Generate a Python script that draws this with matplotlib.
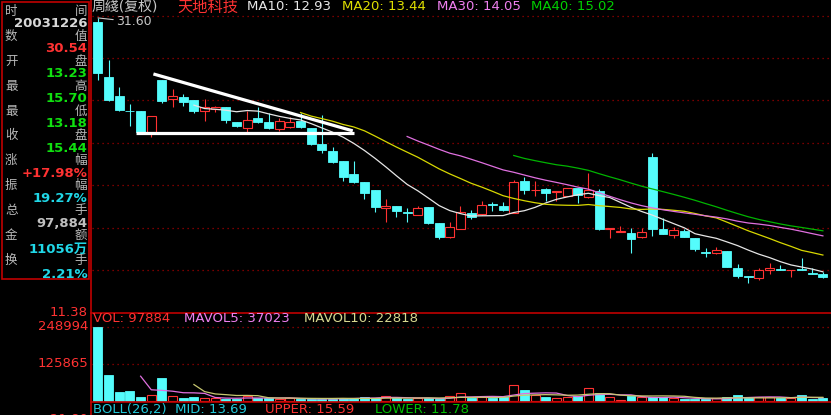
import matplotlib
matplotlib.use("Agg")
import matplotlib.pyplot as plt
import matplotlib.patches as patches
import matplotlib.lines as mlines
import numpy as np
import pandas as pd

plt.rcParams['font.family'] = ['DejaVu Sans', 'Noto Sans CJK SC']

W, H = 831, 415

# weekly candles, adjusted prices
opens = [31.32, 27.56, 26.25, 25.25, 25.22, 23.79, 27.35, 26.05, 26.19, 25.98,
         25.23, 25.36, 25.50, 24.47, 24.06, 24.75, 24.47, 23.99, 24.13, 24.54,
         24.06, 22.97, 22.49, 21.80, 20.91, 20.36, 19.81, 18.58, 18.72, 18.31,
         18.10, 18.65, 17.55, 16.60, 17.14, 18.24, 18.17, 18.86, 18.72, 18.24,
         20.43, 19.81, 19.88, 19.68, 19.40, 19.95, 19.34, 19.75, 17.14, 16.94,
         16.87, 16.60, 22.08, 17.14, 16.73, 17.01, 16.53, 15.57, 15.50, 15.64,
         14.47, 13.92, 13.79, 14.33, 14.40, 14.30, 14.40, 14.13, 14.06]
highs = [31.60, 28.72, 26.87, 25.71, 25.22, 24.88, 27.35, 26.73, 26.39, 25.98,
         26.05, 25.57, 25.50, 24.47, 25.23, 25.50, 25.09, 24.75, 24.82, 25.09,
         24.06, 24.95, 22.76, 21.80, 21.80, 20.36, 19.81, 19.20, 18.72, 18.58,
         18.72, 18.65, 17.55, 17.62, 18.72, 18.45, 19.06, 18.99, 18.99, 20.50,
         20.71, 20.43, 19.95, 19.75, 19.95, 19.95, 20.98, 19.88, 17.21, 17.35,
         17.21, 17.21, 22.35, 17.90, 17.28, 17.14, 16.53, 15.84, 15.91, 15.64,
         14.75, 13.92, 14.47, 14.81, 14.68, 14.33, 15.16, 14.47, 14.20]
lows = [27.35, 25.90, 25.23, 24.20, 23.75, 23.45, 25.77, 25.50, 25.57, 25.09,
        24.54, 25.16, 24.40, 24.13, 23.79, 24.40, 23.99, 23.86, 24.06, 24.06,
        22.90, 22.35, 21.66, 20.43, 20.29, 19.20, 18.31, 17.62, 17.96, 17.62,
        18.10, 17.49, 16.46, 16.53, 17.14, 17.83, 18.10, 18.38, 18.38, 18.24,
        19.54, 19.40, 19.06, 19.06, 19.40, 18.92, 19.27, 17.07, 16.53, 16.94,
        15.50, 16.53, 16.67, 16.80, 16.53, 16.60, 15.64, 15.22, 15.43, 14.54,
        13.79, 13.44, 13.65, 14.06, 14.33, 13.86, 14.33, 14.06, 13.79]
closes = [27.83, 25.98, 25.30, 25.22, 23.79, 24.88, 25.91, 26.25, 25.84, 25.23,
          25.50, 25.50, 24.61, 24.20, 24.61, 24.47, 24.06, 24.54, 24.47, 24.13,
          22.97, 22.56, 21.73, 20.71, 20.36, 19.61, 18.65, 18.72, 18.38, 18.24,
          18.58, 17.55, 16.60, 17.28, 18.31, 17.96, 18.79, 18.79, 18.45, 20.36,
          19.81, 19.84, 19.61, 19.75, 19.95, 19.47, 19.81, 17.14, 17.21, 17.01,
          16.46, 16.94, 17.14, 16.80, 17.07, 16.60, 15.77, 15.50, 15.70, 14.54,
          13.92, 13.86, 14.33, 14.47, 14.33, 14.33, 14.33, 14.06, 13.86]
volumes = [248994, 87500, 31300, 34600, 14500, 20200, 78400, 16800, 9100, 12400,
           11100, 9100, 6700, 6700, 16800, 11100, 9100, 6700, 9100, 6700,
           6700, 6700, 6700, 11100, 11100, 12400, 9100, 16800, 11100, 5700,
           9100, 9100, 5700, 16800, 25900, 11100, 14500, 9100, 12400, 52800,
           37000, 20200, 14500, 9100, 12400, 16800, 42700, 27900, 12400, 3400,
           16800, 14500, 12400, 12400, 9100, 6700, 5700, 5700, 9100, 12400,
           20200, 11100, 12400, 12400, 11100, 9100, 20200, 5700, 9100]

ma_periods = [10, 20, 30, 40]
ma_colors = ['#E6E6E6', '#D8D800', '#E070E0', '#00B400']
vol_ma_periods = [5, 10]
vol_ma_colors = ['#E070E0', '#C8C870']

vol_ticks = [248994, 125865]

# hand-drawn pattern lines (candle index, price)
trend_top = ([5.2, 23.9], [27.76, 23.86])
trend_base = ([3.6, 24.0], [23.72, 23.72])

header = [("周綫(复权)", 92, '#C8C8C8', 10), ("天地科技", 177, '#FF3232', 11),
          ("MA10: 12.93", 247, '#E8E8E8', 9.5), ("MA20: 13.44", 342, '#E0E000', 9.5),
          ("MA30: 14.05", 437, '#F080F0', 9.5), ("MA40: 15.02", 531, '#00D000', 9.5)]
vol_header = [("VOL: 97884", 93, '#FF3232'), ("MAVOL5: 37023", 184, '#F080F0'),
              ("MAVOL10: 22818", 304, '#D8D890')]
boll_header = [("BOLL(26,2)  MID: 13.69", 93, '#20C8D8'), ("UPPER: 15.59", 265, '#FF3232'),
               ("LOWER: 11.78", 375, '#00C000')]

info_labels = [("时", "间"), ("数", "值"), ("开", "盘"), ("最", "高"), ("最", "低"), ("收", "盘"),
               ("涨", "幅"), ("振", "幅"), ("总", "手"), ("金", "额"), ("换", "手")]
info_values = ["20031226", "30.54", "13.23", "15.70", "13.18", "15.44",
               "+17.98%", "19.27%", "97,884", "11056万", "2.21%"]
info_colors = ['#D8D8D8', '#FF3232', '#10E010', '#10E010', '#10E010', '#10E010',
               '#FF3232', '#20D8E8', '#C0C0C0', '#20D8E8', '#20D8E8']

CYAN = '#54FCFC'
RED = '#FF3232'
FRAME = '#C00000'
GRID = '#A00000'

df = pd.DataFrame({'open': opens, 'high': highs, 'low': lows, 'close': closes, 'vol': volumes})
idx = np.arange(len(df))
up = (df['close'] >= df['open']).values

fig = plt.figure(figsize=(W / 100, H / 100), dpi=100, facecolor='black')


def fx(px):
    return px / W


def fy(py):
    return 1 - py / H


L, R = 92, 831
ax = fig.add_axes([fx(L), fy(313), (R - L) / W, (313 - 15) / H])
axv = fig.add_axes([fx(L), fy(402), (R - L) / W, (402 - 313) / H])
for a in (ax, axv):
    a.set_facecolor('black')
    a.set_xticks([])
    a.set_yticks([])
    for s in a.spines.values():
        s.set_visible(False)
    a.set_xlim(-0.56, 68.76)
ax.set_ylim(11.38, 31.80)
axv.set_ylim(-3400, 296000)

# grid
for k in range(1, 8):
    ax.plot([0, 1], [k / 7 - (0.003 if k == 7 else 0)] * 2, transform=ax.transAxes,
            color=GRID, lw=0.9, ls=(0, (1, 3)), zorder=1)
for v in vol_ticks:
    axv.axhline(v, color=GRID, lw=0.9, ls=(0, (1, 3)), zorder=1)

# candles
w = 0.84
colors = np.where(up, RED, CYAN)
ax.vlines(idx, df['low'], df['high'], colors=colors, lw=0.8, zorder=2)
body_lo = np.minimum(df['open'], df['close']).values
body_h = np.maximum(np.abs(df['close'] - df['open']).values, 0.02)
ax.bar(idx[up], body_h[up], bottom=body_lo[up], width=w, facecolor='black',
       edgecolor=RED, lw=0.8, zorder=3)
ax.bar(idx[~up], body_h[~up], bottom=body_lo[~up], width=w, facecolor=CYAN,
       edgecolor=CYAN, lw=0.6, zorder=3)

for p, c in zip(ma_periods, ma_colors):
    ax.plot(idx, df['close'].rolling(p).mean(), color=c, lw=0.9, zorder=4)

ax.plot(*trend_top, color='white', lw=2.3, solid_capstyle='butt', zorder=5)
ax.plot(*trend_base, color='white', lw=2.3, solid_capstyle='butt', zorder=5)

i_max = int(df['high'].idxmax())
ax.annotate(f"{df['high'].max():.2f}", xy=(i_max, df['high'].max()), xytext=(18, -4),
            textcoords='offset pixels', ha='left', va='center', color='#C8C8C8', fontsize=9,
            arrowprops=dict(arrowstyle='-', color='#C8C8C8', lw=0.8, shrinkA=0, shrinkB=0))

# volume
axv.bar(idx[up], df['vol'].values[up], width=w, facecolor='black', edgecolor=RED, lw=0.8, zorder=3)
axv.bar(idx[~up], df['vol'].values[~up], width=w, facecolor=CYAN, edgecolor=CYAN, lw=0.6, zorder=3)
for p, c in zip(vol_ma_periods, vol_ma_colors):
    axv.plot(idx, df['vol'].rolling(p).mean(), color=c, lw=0.9, zorder=4)

# frame lines
fig.add_artist(mlines.Line2D([fx(91), fx(91)], [0, 1], color=FRAME, lw=1.2))
fig.add_artist(mlines.Line2D([fx(91), 1], [fy(313)] * 2, color=FRAME, lw=1.2))
fig.add_artist(mlines.Line2D([fx(91), 1], [fy(402)] * 2, color=FRAME, lw=1.2))
fig.add_artist(patches.Rectangle((fx(1.5), fy(278.5)), 87 / W, 277 / H, fill=False,
                                 edgecolor=FRAME, lw=1.2, transform=fig.transFigure))

# header texts
for s, x, c, fs in header:
    fig.text(fx(x), fy(7), s, color=c, fontsize=fs, ha='left', va='center')
for s, x, c in vol_header:
    fig.text(fx(x), fy(319), s, color=c, fontsize=9.5, ha='left', va='center')
for s, x, c in boll_header:
    fig.text(fx(x), fy(409), s, color=c, fontsize=9.5, ha='left', va='center')

# info panel
for i, (a, b) in enumerate(info_labels):
    y = 11.5 + 24.9 * i
    fig.text(fx(5), fy(y), a, color='#B8B8B8', fontsize=9, ha='left', va='center')
    fig.text(fx(87), fy(y), b, color='#B8B8B8', fontsize=9, ha='right', va='center')
for i, (s, c) in enumerate(zip(info_values, info_colors)):
    y = 23.5 + 25.05 * i
    fig.text(fx(87.5), fy(y), s, color=c, fontsize=9.5, fontweight='bold', ha='right', va='center')

# axis labels on the left
fig.text(fx(88), fy(313), "11.38", color=RED, fontsize=9.5, ha='right', va='center')
for v in vol_ticks:
    y = 401 - v / 296000 * 88
    fig.text(fx(88), fy(y), str(v), color=RED, fontsize=9.5, ha='right', va='center')
fig.text(fx(88), fy(419), "21.80", color=RED, fontsize=9.5, ha='right', va='center')

fig.savefig('out.png', dpi=100, facecolor='black')
